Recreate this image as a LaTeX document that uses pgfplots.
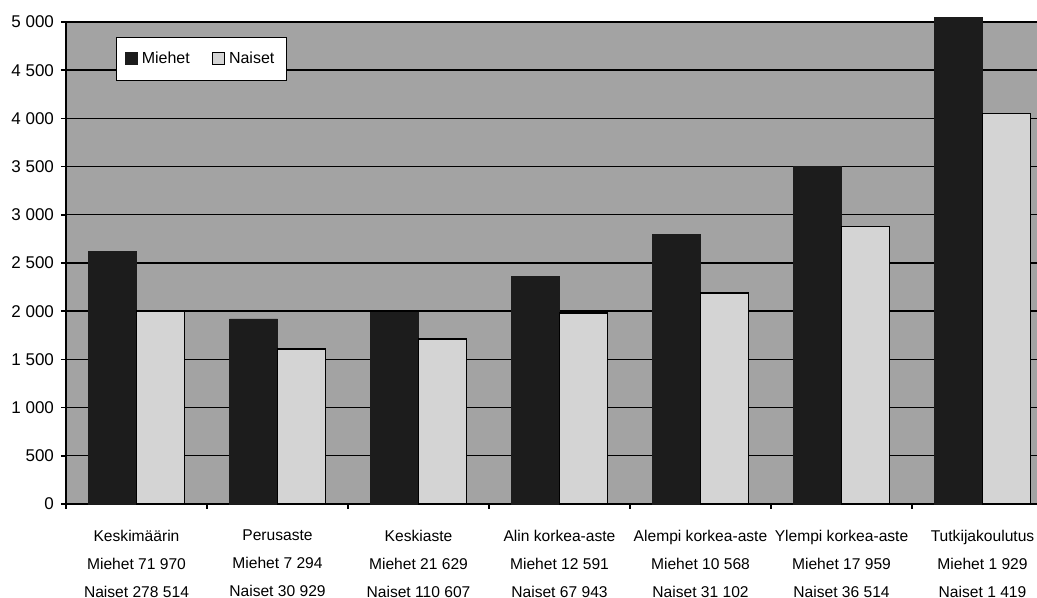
\documentclass[border=0pt]{standalone}
\usepackage{fontspec}
\setmainfont{Liberation Sans}
\usepackage{pgfplots}
\pgfplotsset{compat=1.18}

\definecolor{taustaharmaa}{gray}{0.64}
\definecolor{miehet}{gray}{0.11}
\definecolor{naiset}{gray}{0.83}

\begin{document}
\begin{tikzpicture}
\begin{axis}[
    name=ax,
    scale only axis,
    width=485.5pt, height=241pt,
    xmin=-0.5, xmax=6.3865,
    ymin=0, ymax=5000,
    clip=false,
    axis background/.style={fill=taustaharmaa},
    axis x line*=bottom, axis y line*=left,
    axis line style={black, line width=0.9pt},
    tick align=outside,
    major tick length=2.5pt, minor tick length=2.5pt,
    tick style={black, line width=0.8pt},
    ytick={0,500,...,5000},
    scaled ticks=false,
    /pgf/number format/.cd, 1000 sep={\ }, assume math mode=true, /pgfplots/.cd,
    yticklabel style={font=\fontsize{8.5}{10}\selectfont},
    ymajorgrids,
    grid style={black, line width=0.7pt},
    xtick={0,...,6},
    major x tick style={draw=none},
    minor xtick={-0.5,0.5,...,5.5},
    xticklabels={
        {Keskimäärin\\Miehet 71 970\\Naiset 278 514},
        {Perusaste\\Miehet 7 294\\Naiset 30 929},
        {Keskiaste\\Miehet 21 629\\Naiset 110 607},
        {Alin korkea-aste\\Miehet 12 591\\Naiset 67 943},
        {Alempi korkea-aste\\Miehet 10 568\\Naiset 31 102},
        {Ylempi korkea-aste\\Miehet 17 959\\Naiset 36 514},
        {Tutkijakoulutus\\Miehet 1 929\\Naiset 1 419}},
    xticklabel style={align=center, font=\fontsize{7.8}{14}\selectfont, yshift=-7pt},
    legend columns=2,
    legend style={at={(0.0515,0.969)}, anchor=north west,
        draw=black, line width=0.6pt, fill=white,
        font=\fontsize{8}{10}\selectfont,
        inner xsep=4pt, inner ysep=5pt,
        /tikz/every even column/.append style={column sep=9pt}},
]
    % Miehet
    \addplot[ybar, bar width=0.34, bar shift=0pt, fill=miehet, draw=miehet,
        legend image code/.code={\draw[fill=miehet, draw=miehet] (0pt,-3pt) rectangle (6pt,3pt);}]
    coordinates {
        (-0.17,2620) (0.83,1920) (1.83,1985) (2.83,2360)
        (3.83,2800) (4.83,3500) (5.83,5045)
    };
    \addlegendentry{Miehet}

    % Naiset
    \addplot[ybar, bar width=0.34, bar shift=0pt, fill=naiset, draw=black, line width=0.8pt,
        legend image code/.code={\draw[fill=naiset, draw=black, line width=0.6pt] (0pt,-3pt) rectangle (6pt,3pt);}]
    coordinates {
        (0.17,2005) (1.17,1610) (2.17,1710) (3.17,1980)
        (4.17,2190) (5.17,2880) (6.17,4050)
    };
    \addlegendentry{Naiset}
\end{axis}
\pgfresetboundingbox
\useasboundingbox ([shift={(-33pt,-47pt)}]ax.south west) rectangle ([shift={(0pt,11pt)}]ax.north east);
\end{tikzpicture}
\end{document}
